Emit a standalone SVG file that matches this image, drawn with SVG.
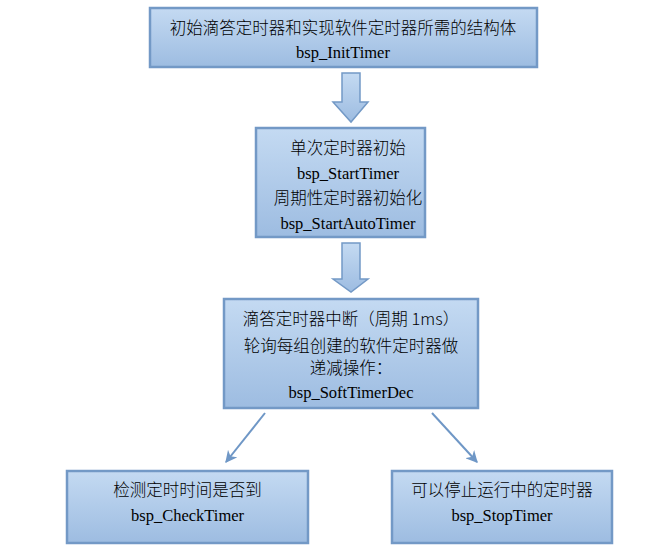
<svg xmlns="http://www.w3.org/2000/svg" width="668" height="556" viewBox="0 0 668 556">
<defs>
<linearGradient id="g" x1="0" y1="0" x2="0" y2="1">
<stop offset="0" stop-color="#c4daf2"/>
<stop offset="1" stop-color="#9dbce1"/>
</linearGradient>
<marker id="ah" viewBox="0 0 10 10" refX="9" refY="5" markerWidth="6" markerHeight="6" orient="auto" markerUnits="strokeWidth">
<path d="M0,0 L10,5 L0,10 L3,5 z" fill="#6f97c6"/>
</marker>
<style>
.box{fill:url(#g);stroke:#7399c6;stroke-width:2.5}
.blk{fill:url(#g);stroke:#7399c6;stroke-width:1.5}
.zh{font-family:"Noto Sans CJK SC","Noto Sans",sans-serif;font-size:16.5px;font-weight:300;fill:#000;text-anchor:middle}
.en{font-family:"Liberation Serif","Times New Roman",serif;font-size:16.5px;fill:#000;text-anchor:middle}
.ln{stroke:#6f97c6;stroke-width:2;fill:none;marker-end:url(#ah)}
</style>
</defs>
<rect width="668" height="556" fill="#fff"/>
<g id="connectors">
<path class="blk" d="M342,73 H360 V102 H368 L351,122 L333,102 H342 Z"/>
<path class="blk" d="M342,243 H360 V279 H368 L351,292 L333,279 H342 Z"/>
<line class="ln" x1="265" y1="413" x2="226" y2="462"/>
<line class="ln" x1="432" y1="413" x2="477" y2="462"/>
</g>
<g id="n1">
<rect class="box" x="150" y="8" width="387" height="59"/>
<text class="zh" x="343" y="34">初始滴答定时器和实现软件定时器所需的结构体</text>
<text class="en" x="343" y="58">bsp_InitTimer</text>
</g>
<g id="n2">
<rect class="box" x="256" y="128" width="169" height="109"/>
<text class="zh" x="348" y="154">单次定时器初始</text>
<text class="en" x="348" y="179">bsp_StartTimer</text>
<text class="zh" x="348" y="204">周期性定时器初始化</text>
<text class="en" x="348" y="229">bsp_StartAutoTimer</text>
</g>
<g id="n3">
<rect class="box" x="224" y="299" width="254" height="109"/>
<text class="zh" x="351" y="325">滴答定时器中断（周期 1ms）</text>
<text class="zh" x="351" y="352">轮询每组创建的软件定时器做</text>
<text class="zh" x="351" y="374">递减操作：</text>
<text class="en" x="351" y="398">bsp_SoftTimerDec</text>
</g>
<g id="n4">
<rect class="box" x="67" y="471" width="241" height="72"/>
<text class="zh" x="187.5" y="496">检测定时时间是否到</text>
<text class="en" x="187.5" y="521">bsp_CheckTimer</text>
</g>
<g id="n5">
<rect class="box" x="392" y="471" width="220" height="72"/>
<text class="zh" x="502" y="496">可以停止运行中的定时器</text>
<text class="en" x="502" y="521">bsp_StopTimer</text>
</g>
</svg>
